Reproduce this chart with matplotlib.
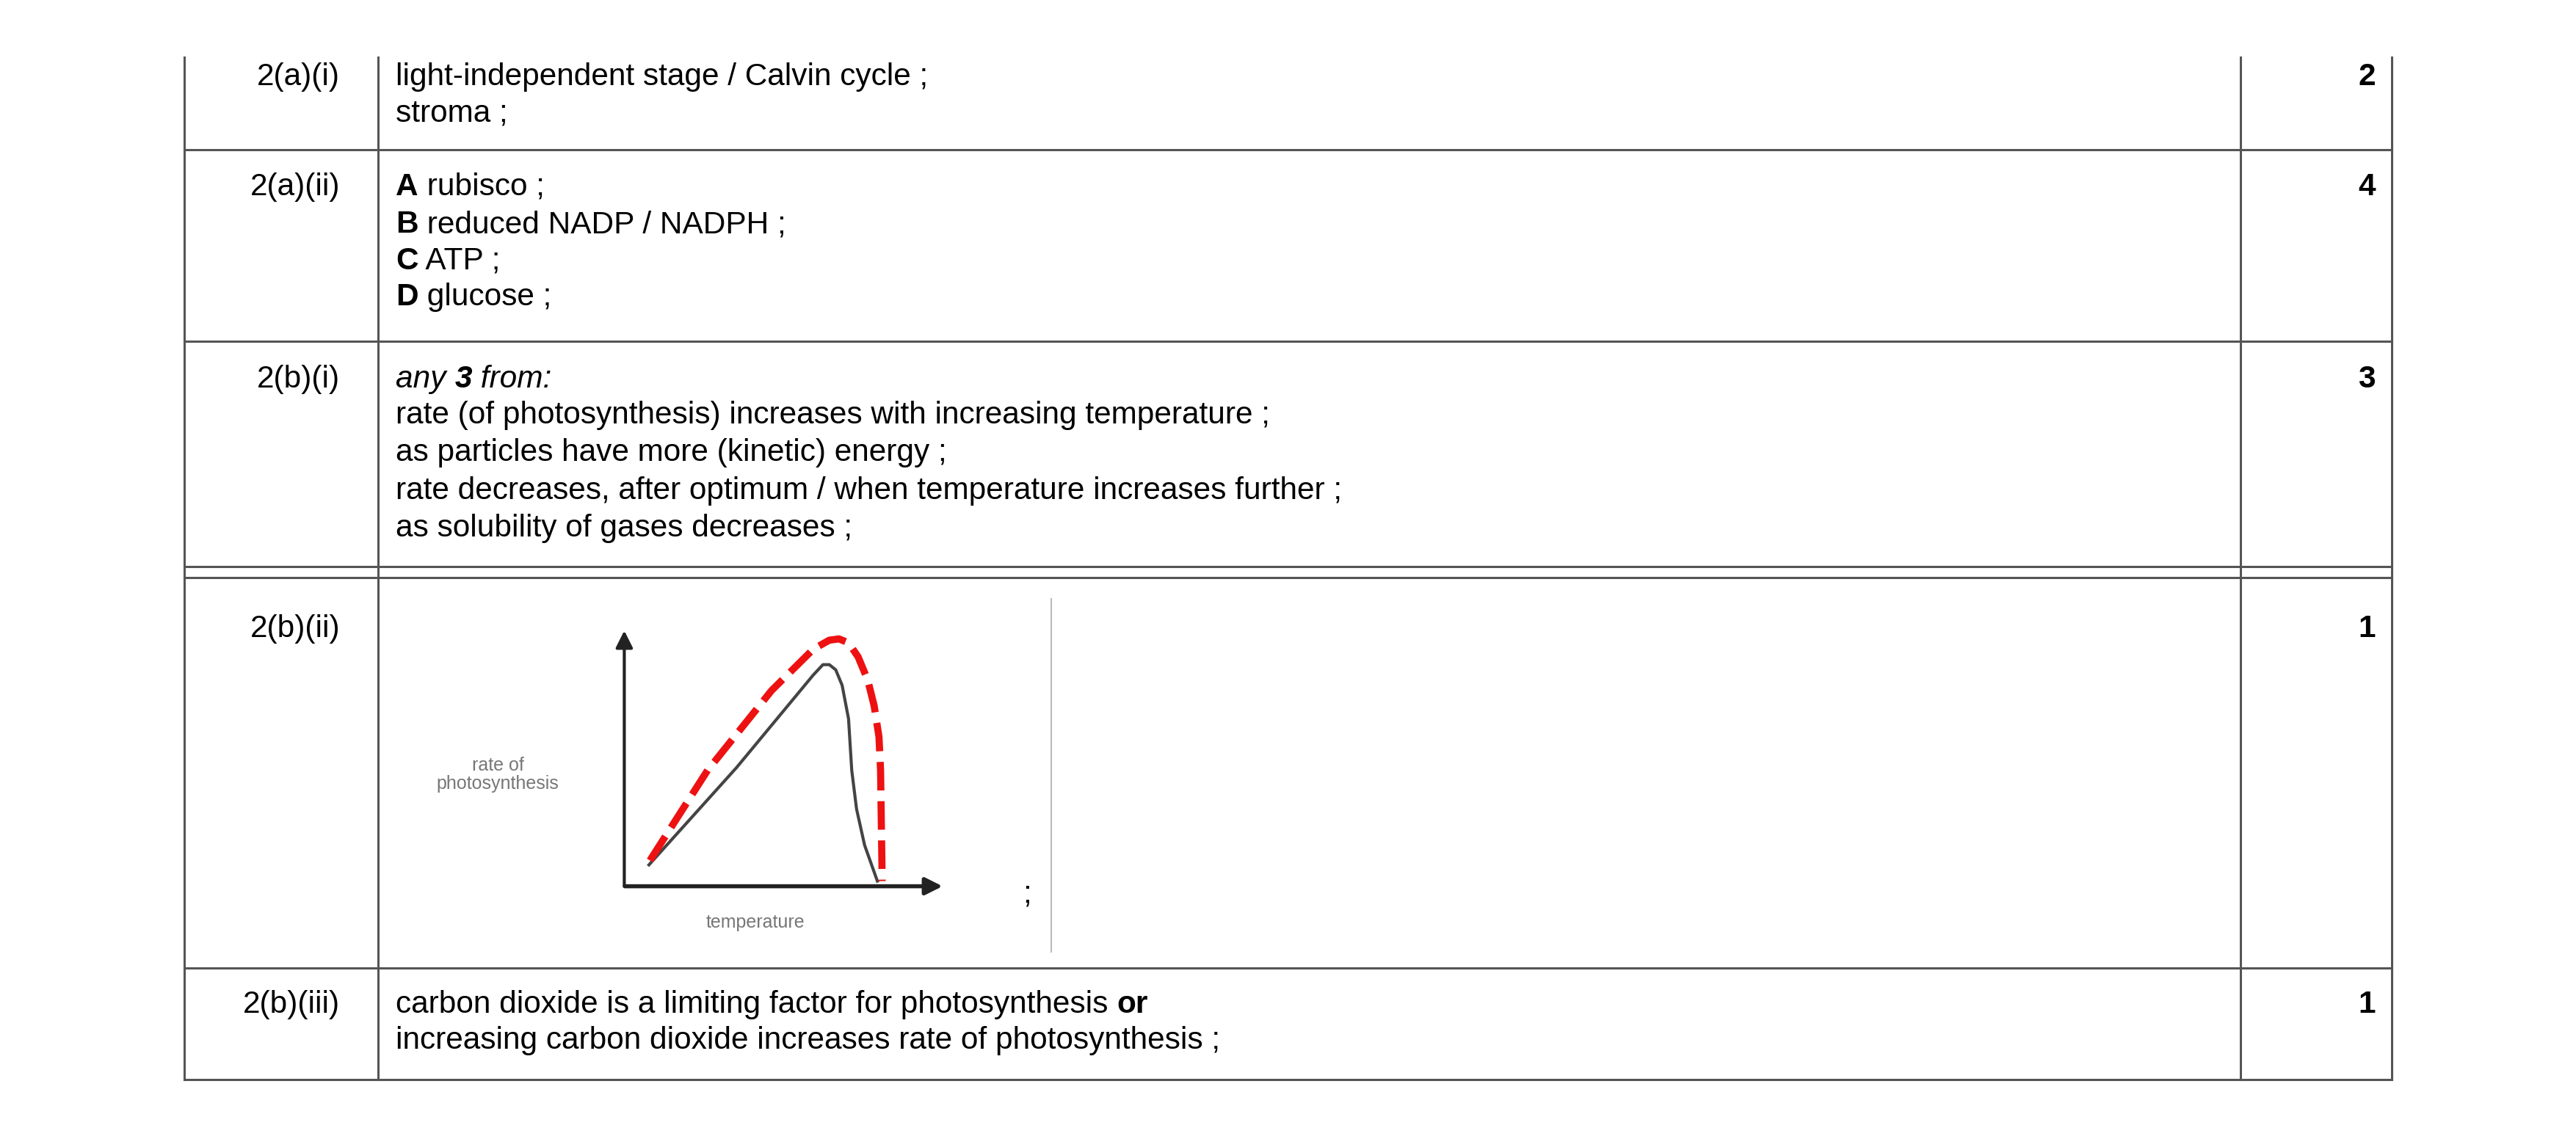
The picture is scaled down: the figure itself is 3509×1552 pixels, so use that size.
import matplotlib
matplotlib.use("Agg")
import matplotlib.pyplot as plt

plt.rcParams['font.family'] = ['Liberation Sans', 'DejaVu Sans']

# Chart data (arbitrary units, temperature 0-10, rate 0-10)
orig_temp = [0.77, 3.5, 5.9, 6.2, 6.4, 6.6, 6.8, 7.0, 7.1, 7.25, 7.5, 7.9]
orig_rate = [0.83, 4.6, 8.2, 8.6, 8.6, 8.4, 7.8, 6.5, 4.5, 3.0, 1.6, 0.2]
new_temp = [0.8, 2.6, 4.6, 5.9, 6.4, 6.7, 7.0, 7.3, 7.6, 7.8, 7.95, 8.0, 8.05]
new_rate = [1.0, 4.5, 7.6, 9.2, 9.55, 9.6, 9.45, 8.9, 8.0, 7.0, 5.8, 4.5, 0.2]

q_labels = ["2(a)(i)", "2(a)(ii)", "2(b)(i)", "2(b)(ii)", "2(b)(iii)"]
marks = ["2", "4", "3", "1", "1"]

W, H = 1568, 694
fig = plt.figure(figsize=(35.09, 15.52), dpi=100)
ax = fig.add_axes([0, 0, 1, 1])
ax.set_xlim(0, W); ax.set_ylim(H, 0); ax.axis('off')

lc = '#555555'; lw = 2.2
for x in [112, 230, 1364, 1456]:
    ax.plot([x, x], [35, 658], color=lc, lw=lw)
for y in [91, 208, 345, 352, 590, 658]:
    ax.plot([112, 1456], [y, y], color=lc, lw=lw)

fs = 30.5
row_tops = [47, 114, 231, 383, 612]
for lab, m, y in zip(q_labels, marks, row_tops):
    ax.text(207, y, lab, fontsize=fs, ha='right', va='center')
    ax.text(1446, y, m, fontsize=fs, ha='right', va='center', fontweight='bold')

def line(y, parts):
    from matplotlib.offsetbox import TextArea, HPacker, AnnotationBbox
    boxes = [TextArea(t, textprops=dict(fontsize=fs, **kw)) for t, kw in parts]
    pack = HPacker(children=boxes, align='baseline', pad=0, sep=0)
    ab = AnnotationBbox(pack, (241, y), xycoords='data', box_alignment=(0, 0.5), frameon=False, pad=0)
    ax.add_artist(ab)

B = dict(fontweight='bold'); N = {}; I = dict(style='italic'); BI = dict(style='italic', fontweight='bold')
line(47, [("light-independent stage / Calvin cycle ;", N)])
line(69, [("stroma ;", N)])
line(114, [("A", B), (" rubisco ;", N)])
line(137, [("B", B), (" reduced NADP / NADPH ;", N)])
line(159, [("C", B), (" ATP ;", N)])
line(181, [("D", B), (" glucose ;", N)])
line(231, [("any ", I), ("3", BI), (" from:", I)])
line(253, [("rate (of photosynthesis) increases with increasing temperature ;", N)])
line(276, [("as particles have more (kinetic) energy ;", N)])
line(299, [("rate decreases, after optimum / when temperature increases further ;", N)])
line(322, [("as solubility of gases decreases ;", N)])
line(612, [("carbon dioxide is a limiting factor for photosynthesis ", N), ("or", B)])
line(634, [("increasing carbon dioxide increases rate of photosynthesis ;", N)])

# embedded chart
ax.plot([640, 640], [365, 580], color='#bbbbbb', lw=1.5)
ax.text(625, 545, ";", fontsize=fs, ha='center', va='center')
ax.text(303, 472, "rate of\nphotosynthesis", fontsize=18, ha='center', va='center', color='#777777', linespacing=1.1)
ax.text(460, 562, "temperature", fontsize=18, ha='center', va='center', color='#777777')

x0, x1, ytop, ybot = 380, 575, 383, 540
ia = fig.add_axes([x0 / W, 1 - ybot / H, (x1 - x0) / W, (ybot - ytop) / H])
ia.set_xlim(0, 10); ia.set_ylim(0, 10); ia.axis('off')
ia.plot(orig_temp, orig_rate, color='#444444', lw=3)
ia.plot(new_temp, new_rate, color='#ee1111', lw=7, ls=(0, (4, 1.5)))
ia.annotate('', xy=(0, 10), xytext=(0, -0.05), xycoords='data',
            arrowprops=dict(arrowstyle='-|>', color='#222222', lw=3, mutation_scale=35), annotation_clip=False)
ia.annotate('', xy=(10, 0), xytext=(-0.05, 0), xycoords='data',
            arrowprops=dict(arrowstyle='-|>', color='#222222', lw=4, mutation_scale=35), annotation_clip=False)

fig.savefig("out.png", dpi=100, facecolor='white')
